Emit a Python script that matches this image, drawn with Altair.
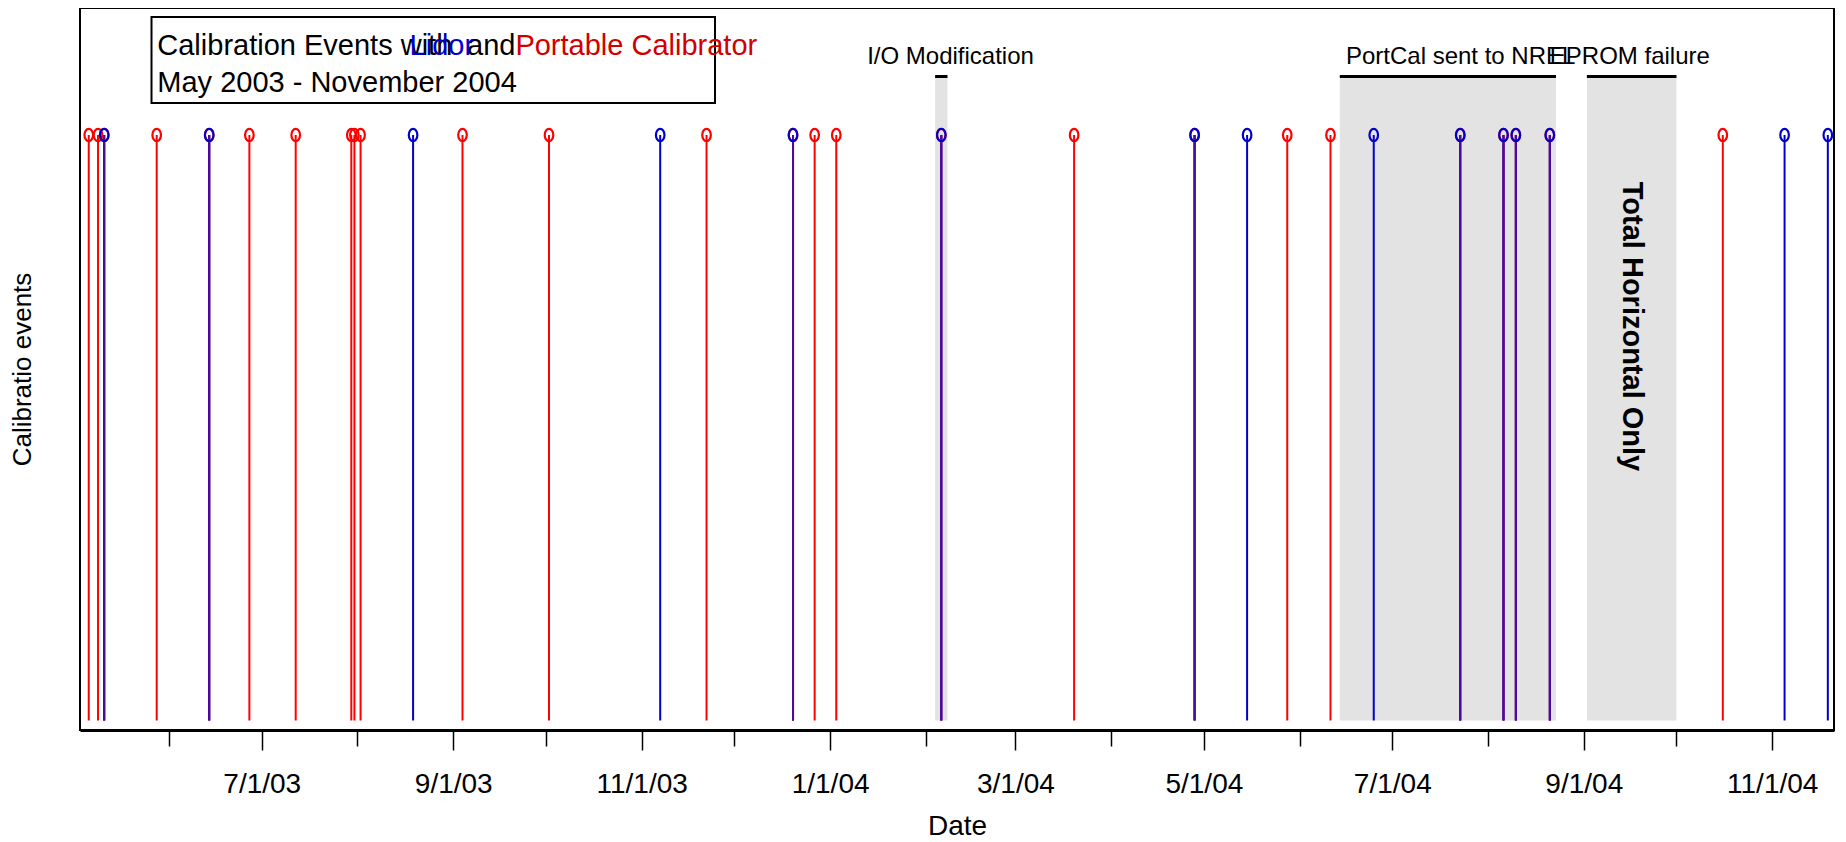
import altair as alt
import pandas as pd

# ---------------- data ----------------
portcal_dates = [
    "2003-05-06", "2003-05-09", "2003-05-11", "2003-05-28", "2003-06-14",
    "2003-06-27", "2003-07-12", "2003-07-30", "2003-07-31", "2003-08-02",
    "2003-09-04", "2003-10-02", "2003-11-22", "2003-12-20", "2003-12-27",
    "2004-01-03", "2004-02-06", "2004-03-20", "2004-04-28", "2004-05-28",
    "2004-06-11", "2004-07-23", "2004-08-06", "2004-08-10", "2004-08-21",
    "2004-10-16",
]
lidor_dates = [
    "2003-05-11", "2003-06-14", "2003-08-19", "2003-11-07", "2003-12-20",
    "2004-02-06", "2004-04-28", "2004-05-15", "2004-06-25", "2004-07-23",
    "2004-08-06", "2004-08-10", "2004-08-21", "2004-11-05", "2004-11-19",
]

period_names = ["I/O Modification", "PortCal sent to NREL", "EPROM failure"]
period_starts = ["2004-02-04", "2004-06-14", "2004-09-02"]
period_ends = ["2004-02-08", "2004-08-23", "2004-10-01"]
period_label_dates = ["2004-01-13", "2004-06-16", "2004-08-21"]
outage_note = "Total Horizontal Only"

tick_months = [(2003, m) for m in range(6, 13)] + [(2004, m) for m in range(1, 12)]

title_parts = ["Calibration Events with", "Lidor", "and", "Portable Calibrator"]
subtitle = "May 2003 - November 2004"

# ---------------- styling ----------------
RED = "#ff0000"
BLUE = "#0000cc"
BOTH = "#4a0c9c"
FONT = "Liberation Sans"
ELLIPSE = "M0,-1A0.7,1,0,1,1,0,1A0.7,1,0,1,1,0,-1Z"
W, H = 1754, 722

pc = pd.DataFrame({"date": pd.to_datetime(portcal_dates), "events": 1})
li = pd.DataFrame({"date": pd.to_datetime(lidor_dates), "events": 1})
both = li[li["date"].isin(pc["date"])].copy()

periods = pd.DataFrame({
    "name": period_names,
    "start": pd.to_datetime(period_starts),
    "end": pd.to_datetime(period_ends),
    "label_at": pd.to_datetime(period_label_dates),
})
periods["mid"] = periods["start"] + (periods["end"] - periods["start"]) / 2
note_df = periods.iloc[[2]].copy()
note_df["note"] = outage_note

x_scale = alt.Scale(domain=[alt.DateTime(year=2003, month=5, date=3, hours=4),
                            alt.DateTime(year=2004, month=11, date=21)])
x_axis = alt.Axis(
    title="Date",
    values=[alt.DateTime(year=y, month=m, date=1) for (y, m) in tick_months],
    tickSize={"condition": {"test": "month(datum.value) % 2 == 0", "value": 20}, "value": 16},
    tickWidth=1.5, tickColor="black",
    domainColor="black", domainWidth=3,
    labelExpr="month(datum.value) % 2 == 0 ? timeFormat(datum.value, '%-m/%-d/%y') : ''",
    labelFont=FONT, labelFontSize=28, labelColor="black", labelPadding=20,
    labelOverlap=False, labelFlush=False, labelBound=False,
    titleFont=FONT, titleFontSize=28, titleFontWeight="normal", titleColor="black",
    titlePadding=14, grid=False,
)
y_scale = alt.Scale(domain=[-0.0162, 1.217])
y_axis = alt.Axis(title="Calibratio events", labels=False, ticks=False, domain=False,
                  grid=False, titleFont=FONT, titleFontSize=26, titleFontWeight="normal",
                  titleColor="black", titlePadding=45)


def X(field):
    return alt.X(f"{field}:T", scale=x_scale, axis=x_axis)


def YD(v):
    return alt.YDatum(v, type="quantitative", scale=y_scale, axis=y_axis)


SHADE_TOP = 1.1
LABEL_Y = 1.122
NOTE_Y = 0.673

shade = alt.Chart(periods).mark_rect(color="#e3e3e3").encode(
    x=X("start"), x2="end:T", y=YD(0), y2=alt.datum(SHADE_TOP))
shade_line = alt.Chart(periods).mark_rule(color="black", strokeWidth=3).encode(
    x=X("start"), x2="end:T", y=YD(SHADE_TOP))
period_text = alt.Chart(periods).mark_text(
    align="left", baseline="alphabetic", font=FONT, fontSize=24, color="black").encode(
    x=X("label_at"), y=YD(LABEL_Y), text="name:N")

y_events = alt.Y("events:Q", scale=y_scale, axis=y_axis)

red_stems = alt.Chart(pc).mark_rule(color=RED, strokeWidth=2).encode(
    x=X("date"), y=y_events, y2=alt.datum(0))
blue_stems = alt.Chart(li).mark_rule(color=BLUE, strokeWidth=2).encode(
    x=X("date"), y=y_events, y2=alt.datum(0))
both_stems = alt.Chart(both).mark_rule(color=BOTH, strokeWidth=2).encode(
    x=X("date"), y=y_events, y2=alt.datum(0))
red_marks = alt.Chart(pc).mark_point(shape=ELLIPSE, filled=False, size=150,
                                     strokeWidth=2.2, color=RED, opacity=1).encode(
    x=X("date"), y=y_events)
blue_marks = alt.Chart(li).mark_point(shape=ELLIPSE, filled=False, size=150,
                                      strokeWidth=2.2, color=BLUE, opacity=1).encode(
    x=X("date"), y=y_events)

note = alt.Chart(note_df).mark_text(
    angle=90, align="center", baseline="middle", font=FONT, fontSize=29,
    fontWeight="bold", color="black").encode(x=X("mid"), y=YD(NOTE_Y), text="note:N")

one = pd.DataFrame({"k": [0]})
frame = alt.Chart(one).mark_rect(fill="white", fillOpacity=0, stroke="black",
                                 strokeWidth=2).encode(
    x=alt.value(0), x2=alt.value(W), y=alt.value(0), y2=alt.value(H))
box = alt.Chart(one).mark_rect(fill="white", stroke="black", strokeWidth=2).encode(
    x=alt.value(71.5), x2=alt.value(635), y=alt.value(9), y2=alt.value(95))


def legend_text(txt, color, x, y):
    return alt.Chart(pd.DataFrame({"t": [txt]})).mark_text(
        align="left", baseline="alphabetic", font=FONT, fontSize=29, color=color).encode(
        x=alt.value(x), y=alt.value(y), text="t:N")


legend = [
    legend_text(title_parts[0], "black", 77.3, 47),
    legend_text(title_parts[2], "black", 387, 47),
    legend_text(title_parts[1], "#0000cc", 329.6, 47),
    legend_text(title_parts[3], "#d00000", 435.4, 47),
    legend_text(subtitle, "black", 77.3, 84),
]

chart = alt.layer(
    shade, shade_line, period_text,
    red_stems, blue_stems, both_stems, red_marks, blue_marks,
    note, frame, box, *legend,
).properties(
    width=W, height=H,
    padding={"left": 72, "top": 0, "right": 2, "bottom": 110},
    autosize=alt.AutoSizeParams(type="none"),
).configure_view(stroke=None).configure(font=FONT)

chart.save("out.html", embed_options={"renderer": "svg", "actions": False})
